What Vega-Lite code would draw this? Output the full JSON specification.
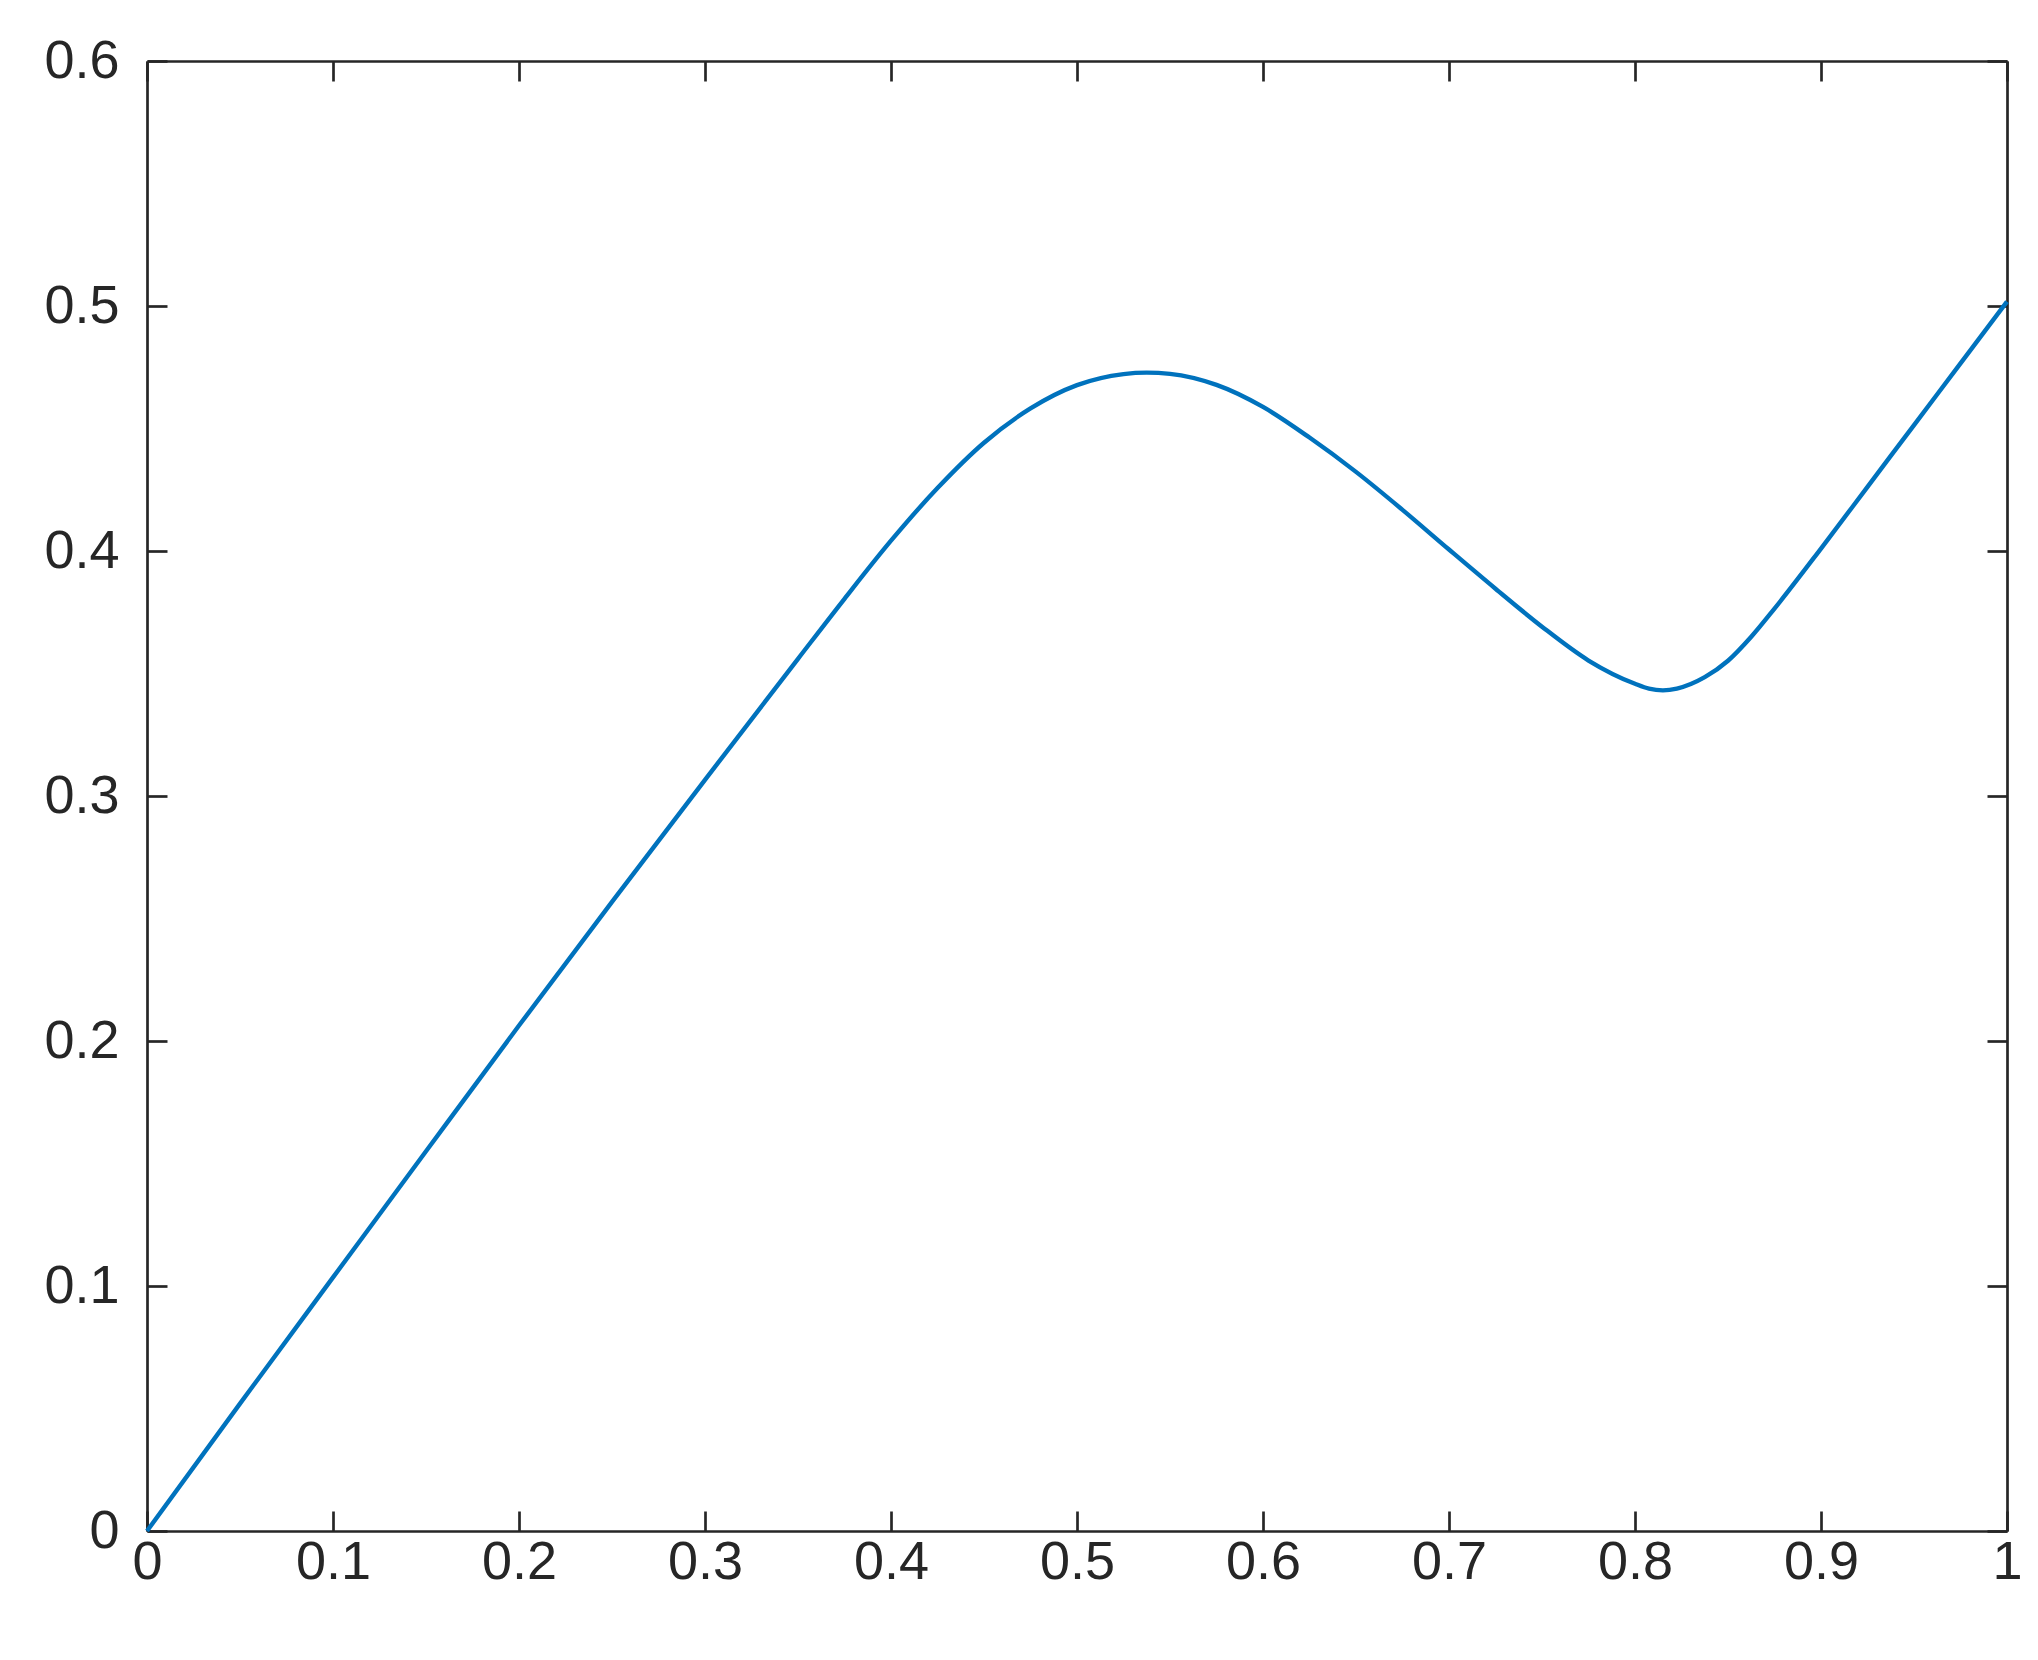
{
  "$schema": "https://vega.github.io/schema/vega-lite/v6.json",
  "width": 1860,
  "height": 1470,
  "autosize": "none",
  "padding": {"left": 147, "top": 61, "right": 31, "bottom": 129},
  "background": "white",
  "config": {
    "view": {"stroke": null},
    "axis": {
      "grid": false,
      "domainColor": "#262626",
      "domainWidth": 2.7,
      "tickColor": "#262626",
      "tickWidth": 2.7,
      "tickSize": -20,
      "labelFont": "Liberation Sans",
      "labelFontSize": 54,
      "labelColor": "#262626",
      "labelFlush": false,
      "labelOverlap": false,
      "labelBound": false,
      "title": null
    }
  },
  "data": {
    "values": [
      {"x": 0, "y": 0},
      {"x": 0.05, "y": 0.052},
      {"x": 0.1, "y": 0.1035},
      {"x": 0.15, "y": 0.155},
      {"x": 0.2, "y": 0.2063},
      {"x": 0.25, "y": 0.2568},
      {"x": 0.3, "y": 0.3066},
      {"x": 0.35, "y": 0.356},
      {"x": 0.375, "y": 0.3805},
      {"x": 0.4, "y": 0.4042},
      {"x": 0.425, "y": 0.4257},
      {"x": 0.45, "y": 0.4442},
      {"x": 0.475, "y": 0.4582},
      {"x": 0.5, "y": 0.4677},
      {"x": 0.525, "y": 0.4722},
      {"x": 0.5375, "y": 0.4728},
      {"x": 0.55, "y": 0.4723},
      {"x": 0.575, "y": 0.4678},
      {"x": 0.6, "y": 0.4588},
      {"x": 0.625, "y": 0.4463},
      {"x": 0.65, "y": 0.4323},
      {"x": 0.675, "y": 0.4168},
      {"x": 0.7, "y": 0.4006},
      {"x": 0.725, "y": 0.3846},
      {"x": 0.75, "y": 0.3691},
      {"x": 0.775, "y": 0.3553},
      {"x": 0.8, "y": 0.3458},
      {"x": 0.8075, "y": 0.3438},
      {"x": 0.815, "y": 0.3431},
      {"x": 0.8225, "y": 0.3438},
      {"x": 0.83, "y": 0.3457},
      {"x": 0.8375, "y": 0.3485},
      {"x": 0.85, "y": 0.3552},
      {"x": 0.8625, "y": 0.365},
      {"x": 0.875, "y": 0.3765},
      {"x": 0.9, "y": 0.401},
      {"x": 0.925, "y": 0.4262},
      {"x": 0.95, "y": 0.4514},
      {"x": 0.975, "y": 0.4766},
      {"x": 1.0, "y": 0.5018}
    ]
  },
  "layer": [
    {
      "mark": {"type": "line", "color": "#0072BD", "strokeWidth": 4.4, "interpolate": "monotone"},
      "encoding": {
        "x": {"field": "x", "type": "quantitative", "scale": {"domain": [0, 1], "nice": false, "zero": false},
              "axis": {"orient": "bottom", "values": [0, 0.1, 0.2, 0.3, 0.4, 0.5, 0.6, 0.7, 0.8, 0.9, 1], "format": "~g", "labelPadding": 24}},
        "y": {"field": "y", "type": "quantitative", "scale": {"domain": [0, 0.6], "nice": false, "zero": false},
              "axis": {"orient": "left", "values": [0, 0.1, 0.2, 0.3, 0.4, 0.5, 0.6], "format": "~g", "labelPadding": 48}}
      }
    },
    {
      "mark": {"type": "line", "opacity": 0},
      "encoding": {
        "x": {"field": "x", "type": "quantitative", "scale": {"domain": [0, 1], "nice": false, "zero": false},
              "axis": {"orient": "top", "values": [0, 0.1, 0.2, 0.3, 0.4, 0.5, 0.6, 0.7, 0.8, 0.9, 1], "labels": false}},
        "y": {"field": "y", "type": "quantitative", "scale": {"domain": [0, 0.6], "nice": false, "zero": false},
              "axis": {"orient": "right", "values": [0, 0.1, 0.2, 0.3, 0.4, 0.5, 0.6], "labels": false}}
      }
    }
  ],
  "resolve": {"axis": {"x": "independent", "y": "independent"}}
}
